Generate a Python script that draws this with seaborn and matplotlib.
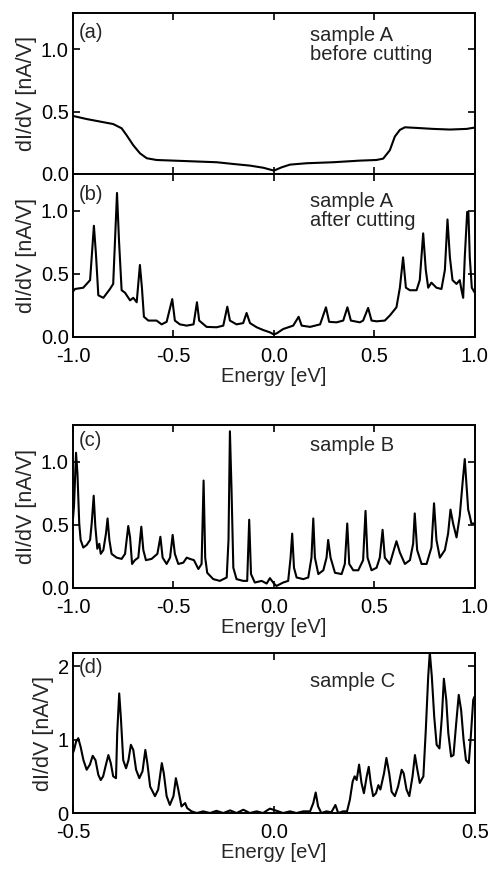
import matplotlib
matplotlib.use("Agg")
import matplotlib.pyplot as plt
import seaborn as sns
import pandas as pd

# panel (a): sample A before cutting
a_energy = [-1.0, -0.932, -0.866, -0.80, -0.758, -0.733, -0.70, -0.667, -0.633, -0.584,
            -0.50, -0.368, -0.285, -0.202, -0.119, -0.053, 0.0, 0.038, 0.08, 0.163,
            0.295, 0.428, 0.51, 0.544, 0.577, 0.602, 0.627, 0.652, 0.71, 0.793, 0.876,
            0.959, 1.0]
a_didv = [0.465, 0.44, 0.42, 0.40, 0.366, 0.31, 0.23, 0.166, 0.126, 0.112,
          0.107, 0.099, 0.094, 0.08, 0.067, 0.05, 0.027, 0.053, 0.075, 0.086,
          0.094, 0.107, 0.112, 0.123, 0.19, 0.30, 0.353, 0.374, 0.369, 0.361, 0.356,
          0.361, 0.372]

# panel (b): sample A after cutting
b_energy = [-1.0, -0.99, -0.949, -0.915, -0.896, -0.886, -0.874, -0.849, -0.816, -0.80,
            -0.781, -0.771, -0.758, -0.741, -0.716, -0.70, -0.683, -0.667, -0.657, -0.647,
            -0.625, -0.584, -0.559, -0.534, -0.506, -0.493, -0.468, -0.434, -0.40, -0.383,
            -0.372, -0.335, -0.285, -0.252, -0.232, -0.219, -0.186, -0.153, -0.136, -0.119,
            -0.086, -0.053, -0.02, 0.0, 0.015, 0.046, 0.096, 0.123, 0.138, 0.18,
            0.23, 0.259, 0.275, 0.312, 0.345, 0.366, 0.383, 0.428, 0.444, 0.469,
            0.486, 0.511, 0.552, 0.577, 0.61, 0.627, 0.643, 0.657, 0.677, 0.71,
            0.726, 0.743, 0.756, 0.768, 0.784, 0.809, 0.834, 0.851, 0.864, 0.876,
            0.889, 0.909, 0.925, 0.934, 0.942, 0.95, 0.962, 0.968, 0.975, 0.985, 1.0]
b_didv = [0.36, 0.38, 0.39, 0.45, 0.88, 0.66, 0.33, 0.31, 0.38, 0.42,
          1.14, 0.76, 0.37, 0.35, 0.29, 0.31, 0.275, 0.57, 0.39, 0.16,
          0.13, 0.13, 0.10, 0.12, 0.30, 0.13, 0.10, 0.09, 0.10, 0.275,
          0.13, 0.08, 0.077, 0.09, 0.24, 0.13, 0.10, 0.11, 0.19, 0.11,
          0.077, 0.055, 0.037, 0.02, 0.03, 0.063, 0.09, 0.16, 0.09, 0.08,
          0.10, 0.235, 0.12, 0.116, 0.13, 0.235, 0.13, 0.116, 0.13, 0.23,
          0.13, 0.124, 0.13, 0.17, 0.235, 0.39, 0.63, 0.39, 0.37, 0.37,
          0.45, 0.82, 0.53, 0.39, 0.43, 0.39, 0.38, 0.53, 0.93, 0.63,
          0.45, 0.42, 0.45, 0.37, 0.31, 0.63, 0.99, 0.99, 0.63, 0.39, 0.35]

# panel (c): sample B
c_energy = [-1.0, -0.995, -0.985, -0.978, -0.969, -0.962, -0.949, -0.932, -0.915, -0.907,
            -0.897, -0.889, -0.879, -0.869, -0.862, -0.849, -0.836, -0.828, -0.819, -0.808,
            -0.783, -0.758, -0.741, -0.725, -0.716, -0.706, -0.692, -0.675, -0.66, -0.65,
            -0.637, -0.609, -0.58, -0.565, -0.554, -0.534, -0.517, -0.504, -0.493, -0.476,
            -0.451, -0.434, -0.418, -0.398, -0.376, -0.36, -0.35, -0.342, -0.332, -0.302,
            -0.269, -0.235, -0.226, -0.219, -0.211, -0.202, -0.186, -0.153, -0.133, -0.123,
            -0.114, -0.095, -0.061, -0.036, -0.02, 0.0, 0.013, 0.046, 0.071, 0.083,
            0.091, 0.10, 0.113, 0.146, 0.171, 0.187, 0.196, 0.204, 0.221, 0.246,
            0.262, 0.27, 0.282, 0.304, 0.337, 0.353, 0.365, 0.375, 0.395, 0.42,
            0.444, 0.456, 0.466, 0.486, 0.511, 0.527, 0.541, 0.552, 0.577, 0.597,
            0.61, 0.627, 0.652, 0.677, 0.693, 0.701, 0.713, 0.735, 0.76, 0.784,
            0.797, 0.809, 0.826, 0.851, 0.867, 0.879, 0.892, 0.909, 0.925, 0.939,
            0.95, 0.958, 0.967, 0.975, 0.983, 1.0]
c_didv = [0.55, 0.65, 1.07, 0.91, 0.51, 0.38, 0.32, 0.34, 0.38, 0.51,
          0.73, 0.49, 0.31, 0.35, 0.27, 0.30, 0.43, 0.55, 0.38, 0.27,
          0.24, 0.23, 0.27, 0.49, 0.40, 0.19, 0.22, 0.24, 0.485, 0.30,
          0.22, 0.23, 0.27, 0.405, 0.24, 0.19, 0.24, 0.42, 0.27, 0.19,
          0.20, 0.24, 0.23, 0.22, 0.15, 0.19, 0.85, 0.24, 0.12, 0.07,
          0.056, 0.083, 0.38, 1.24, 0.78, 0.16, 0.07, 0.056, 0.056, 0.54,
          0.11, 0.043, 0.056, 0.035, 0.078, 0.035, 0.016, 0.043, 0.056, 0.24,
          0.43, 0.16, 0.083, 0.07, 0.083, 0.24, 0.55, 0.24, 0.11, 0.14,
          0.24, 0.38, 0.24, 0.12, 0.11, 0.19, 0.51, 0.19, 0.14, 0.14,
          0.22, 0.61, 0.24, 0.14, 0.16, 0.24, 0.46, 0.24, 0.19, 0.30,
          0.37, 0.28, 0.19, 0.22, 0.35, 0.59, 0.30, 0.19, 0.19, 0.32,
          0.67, 0.38, 0.24, 0.30, 0.43, 0.62, 0.51, 0.40, 0.57, 0.83,
          1.02, 0.83, 0.62, 0.57, 0.51, 0.51]

# panel (d): sample C
d_energy = [-0.5, -0.4975, -0.4925, -0.487, -0.481, -0.474, -0.466, -0.458, -0.451, -0.444,
            -0.437, -0.431, -0.425, -0.418, -0.412, -0.406, -0.40, -0.393, -0.39, -0.385,
            -0.381, -0.375, -0.368, -0.362, -0.356, -0.35, -0.343, -0.335, -0.327, -0.32,
            -0.315, -0.308, -0.296, -0.288, -0.279, -0.274, -0.267, -0.259, -0.25, -0.244,
            -0.238, -0.23, -0.221, -0.216, -0.205, -0.192, -0.176, -0.159, -0.143, -0.126,
            -0.109, -0.093, -0.076, -0.06, -0.043, -0.027, -0.01, 0.007, 0.023, 0.04,
            0.056, 0.073, 0.09, 0.098, 0.104, 0.11, 0.118, 0.131, 0.143, 0.153,
            0.16, 0.172, 0.182, 0.189, 0.196, 0.201, 0.206, 0.212, 0.218, 0.224,
            0.231, 0.236, 0.241, 0.247, 0.254, 0.26, 0.265, 0.274, 0.28, 0.287,
            0.293, 0.301, 0.309, 0.318, 0.323, 0.33, 0.337, 0.345, 0.351, 0.357,
            0.363, 0.372, 0.378, 0.384, 0.388, 0.393, 0.399, 0.405, 0.412, 0.418,
            0.423, 0.429, 0.434, 0.441, 0.447, 0.453, 0.46, 0.466, 0.472, 0.478,
            0.485, 0.49, 0.496, 0.4985]
d_didv = [0.82, 0.86, 0.97, 1.02, 0.90, 0.72, 0.59, 0.66, 0.78, 0.72,
          0.52, 0.45, 0.50, 0.66, 0.79, 0.68, 0.50, 0.475, 1.09, 1.63,
          1.31, 0.72, 0.61, 0.72, 0.93, 0.86, 0.59, 0.475, 0.57, 0.86,
          0.68, 0.36, 0.23, 0.32, 0.68, 0.54, 0.23, 0.11, 0.23, 0.475,
          0.32, 0.09, 0.136, 0.068, 0.023, 0.0, 0.023, 0.0, 0.03, 0.0,
          0.036, 0.0, 0.045, 0.0, 0.023, 0.0, 0.06, 0.03, 0.0, 0.023,
          0.0, 0.023, 0.023, 0.136, 0.28, 0.09, 0.0, 0.023, 0.01, 0.11,
          0.0, 0.023, 0.023, 0.18, 0.43, 0.50, 0.45, 0.66, 0.41, 0.27,
          0.50, 0.63, 0.41, 0.23, 0.27, 0.38, 0.32, 0.54, 0.75, 0.54,
          0.29, 0.23, 0.36, 0.59, 0.54, 0.32, 0.23, 0.50, 0.79, 0.59,
          0.41, 0.50, 1.13, 1.86, 2.19, 1.86, 1.31, 0.93, 0.88, 1.31,
          1.83, 1.54, 1.09, 0.77, 0.79, 1.18, 1.61, 1.40, 1.0, 0.72,
          0.68, 1.04, 1.54, 1.58]

panels = [
    (a_energy, a_didv, "(a)", "sample A\nbefore cutting"),
    (b_energy, b_didv, "(b)", "sample A\nafter cutting"),
    (c_energy, c_didv, "(c)", "sample B"),
    (d_energy, d_didv, "(d)", "sample C"),
]

# where the panel tag and the sample name sit (axes fractions)
tag_y = [0.94, 0.93, 0.96, 0.97]
name_y = [0.92, 0.89, 0.93, 0.88]

sns.set_theme(style="ticks")
plt.rcParams["font.family"] = ["Liberation Sans", "DejaVu Sans"]
plt.rcParams["axes.unicode_minus"] = False
plt.rcParams["axes.edgecolor"] = "black"
plt.rcParams["axes.linewidth"] = 1.4

fig = plt.figure(figsize=(4.9, 8.69), dpi=100)
left, width = 0.149, 0.820
boxes = [(0.7998, 0.1853), (0.6122, 0.1876), (0.3234, 0.1876), (0.0644, 0.1841)]
axes = [fig.add_axes([left, b, width, h]) for b, h in boxes]

for i, (ax, (xs, ys, tag, name)) in enumerate(zip(axes, panels)):
    df = pd.DataFrame({"energy": xs, "didv": ys})
    sns.lineplot(data=df, x="energy", y="didv", ax=ax, color="black",
                 linewidth=1.5, estimator=None, sort=False)
    ax.tick_params(direction="in", top=True, right=True, length=5, width=1.2,
                   labelsize=14.5, colors="black")
    ax.tick_params(axis="x", pad=7)
    ax.tick_params(axis="y", pad=3)
    ax.set_ylabel("dI/dV [nA/V]", fontsize=15.5, labelpad=3)
    ax.set_xlabel("Energy [eV]", fontsize=14.5, labelpad=1)
    ax.text(0.015, tag_y[i], tag, transform=ax.transAxes, ha="left", va="top", fontsize=14.5)
    ax.text(0.59, name_y[i], name, transform=ax.transAxes, ha="left", va="top",
            fontsize=14.5, linespacing=1.0)
    for s in ax.spines.values():
        s.set_visible(True)
        s.set_color("black")

for ax in axes[:3]:
    ax.set_xlim(-1.0, 1.0)
    ax.set_xticks([-1.0, -0.5, 0.0, 0.5, 1.0])
    ax.set_xticklabels(["-1.0", "-0.5", "0.0", "0.5", "1.0"])
    ax.set_ylim(0, 1.29)
    ax.set_yticks([0.0, 0.5, 1.0])
    ax.set_yticklabels(["0.0", "0.5", "1.0"])

axes[0].set_xlabel("")
axes[0].tick_params(labelbottom=False)

axes[3].set_xlim(-0.5, 0.5)
axes[3].set_xticks([-0.5, 0.0, 0.5])
axes[3].set_xticklabels(["-0.5", "0.0", "0.5"])
axes[3].set_ylim(0, 2.18)
axes[3].set_yticks([0, 1, 2])
axes[3].set_yticklabels(["0", "1", "2"])

fig.savefig("out.png", dpi=100)
